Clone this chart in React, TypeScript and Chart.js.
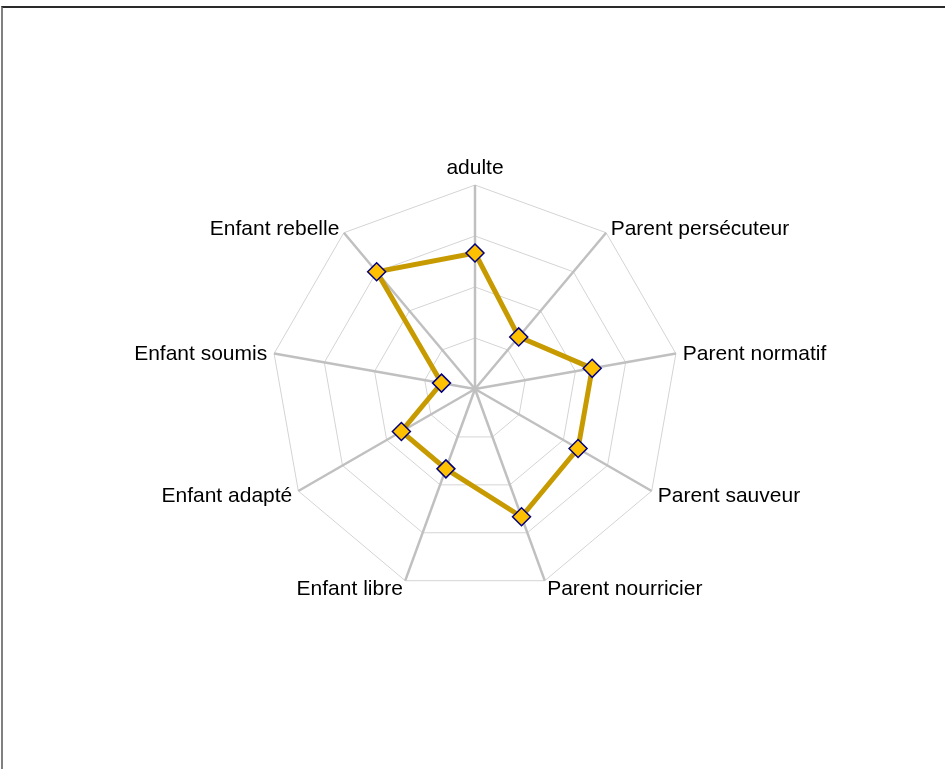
import React, { useEffect, useRef } from "react";
import { Chart, registerables } from "chart.js";

Chart.register(...registerables);

const categories = [
  "adulte",
  "Parent persécuteur",
  "Parent normatif",
  "Parent sauveur",
  "Parent nourricier",
  "Enfant libre",
  "Enfant adapté",
  "Enfant soumis",
  "Enfant rebelle",
];

const seriesValues = [8, 4, 7, 7, 8, 5, 5, 2, 9];

const scaleMin = 0;
const scaleMax = 12;
const scaleStep = 3;

const labelFont = "21px 'Liberation Sans', Arial, sans-serif";

const pointLabelPlugin = {
  id: "customPointLabels",
  afterDraw(chart: any) {
    const scale = chart.scales.r;
    const ctx = chart.ctx;
    const labels: string[] = chart.data.labels;
    ctx.save();
    ctx.font = labelFont;
    ctx.fillStyle = "#000000";
    labels.forEach((text, i) => {
      const pos = scale.getPointPosition(i, scale.drawingArea + 7);
      const dx = pos.x - scale.xCenter;
      let align: CanvasTextAlign = "center";
      if (dx > 1) align = "left";
      else if (dx < -1) align = "right";
      ctx.textAlign = align;
      let y = pos.y;
      if (align === "center") {
        ctx.textBaseline = pos.y < scale.yCenter ? "bottom" : "top";
        y += 1;
      } else {
        ctx.textBaseline = "middle";
        y += 2;
      }
      ctx.fillText(text, pos.x, y);
    });
    ctx.restore();
  },
};

export default function App() {
  const ref = useRef<HTMLCanvasElement | null>(null);

  useEffect(() => {
    if (!ref.current) return;
    const chart = new Chart(ref.current, {
      type: "radar",
      data: {
        labels: categories,
        datasets: [
          {
            label: "Profil",
            data: seriesValues,
            borderColor: "#C79B00",
            borderWidth: 5,
            backgroundColor: "rgba(0,0,0,0)",
            fill: false,
            pointStyle: "rectRot",
            pointRadius: 9,
            pointBackgroundColor: "#FFC000",
            pointBorderColor: "#000080",
            pointBorderWidth: 1.5,
            tension: 0,
          },
        ],
      },
      options: {
        responsive: false,
        animation: false,
        layout: { padding: { top: 185, bottom: 176, left: 271, right: 266 } },
        plugins: {
          legend: { display: false },
          tooltip: { enabled: false },
        },
        scales: {
          r: {
            min: scaleMin,
            max: scaleMax,
            ticks: { display: false, stepSize: scaleStep },
            grid: { color: "#d4d4d4", lineWidth: 1 },
            angleLines: { color: "#c0c0c0", lineWidth: 2.5 },
            pointLabels: { display: false },
          },
        },
      },
      plugins: [pointLabelPlugin],
    });
    return () => chart.destroy();
  }, []);

  return (
    <div style={{ position: "fixed", left: 0, top: 0, width: 945, height: 769, background: "#fff" }}>
      <div
        style={{
          position: "absolute",
          left: 1,
          top: 6,
          width: 1000,
          height: 900,
          borderTop: "2px solid #2a2a2a",
          borderLeft: "2px solid #808080",
        }}
      />
      <canvas ref={ref} width={945} height={769} style={{ position: "absolute", left: 0, top: 0 }} />
    </div>
  );
}
